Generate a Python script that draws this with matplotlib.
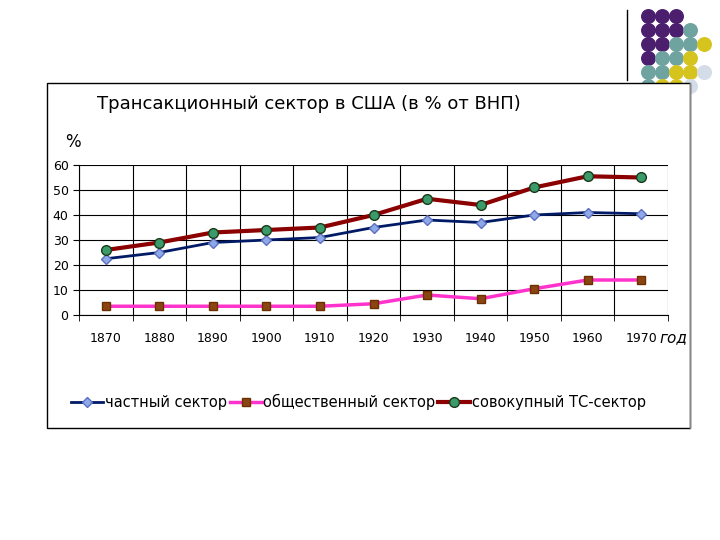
import matplotlib
matplotlib.use("Agg")
import matplotlib.pyplot as plt
from matplotlib.patches import Rectangle
import numpy as np

years = ["1870", "1880", "1890", "1900", "1910", "1920", "1930", "1940", "1950", "1960", "1970"]
private = [22.5, 25, 29, 30, 31, 35, 38, 37, 40, 41, 40.5]
public = [3.5, 3.5, 3.5, 3.5, 3.5, 4.5, 8, 6.5, 10.5, 14, 14]
total = [26, 29, 33, 34, 35, 40, 46.5, 44, 51, 55.5, 55]

W, H = 720, 540
fig = plt.figure(figsize=(7.2, 5.4), dpi=100)

# decorative dots in the top right corner
deco = fig.add_axes([0, 0, 1, 1], facecolor="none")
deco.set_xlim(0, W)
deco.set_ylim(H, 0)
deco.axis("off")
purple, teal, yellow, pale = "#4b1e6e", "#6fa3a0", "#d6c41e", "#d4dce8"
rows = [
    [purple, purple, purple],
    [purple, purple, purple, teal],
    [purple, purple, teal, teal, yellow],
    [purple, teal, teal, yellow],
    [teal, teal, yellow, yellow, pale],
    [teal, yellow, yellow, pale],
]
for r, row in enumerate(rows):
    for c, col in enumerate(row):
        deco.scatter(648 + c * 14, 16 + r * 14, s=95, color=col, zorder=1)
deco.plot([627, 627], [10, 80], color="black", lw=1)
deco.add_patch(Rectangle((47, 83), 643, 345, facecolor="white", edgecolor="black", lw=1, zorder=2))
deco.plot([690, 690], [83, 428], color="#888888", lw=1, zorder=3)

fig.text(97 / W, 1 - 104 / H, "Трансакционный сектор в США (в % от ВНП)", fontsize=13, va="center")
fig.text(65 / W, 1 - 142 / H, "%", fontsize=12, va="center")

ax = fig.add_axes([79 / W, 1 - 315 / H, (668 - 79) / W, 150 / H])
ax.set_zorder(5)
x = np.arange(len(years))
ax.set_xlim(-0.5, len(years) - 0.5)
ax.set_ylim(0, 60)
ax.set_yticks(range(0, 61, 10))
ax.set_xticks(x)
ax.set_xticklabels(years)
ax.set_xticks(np.arange(-0.5, len(years)), minor=True)
ax.grid(True, which="minor", axis="x", color="black", lw=0.8)
ax.grid(True, which="major", axis="y", color="black", lw=0.8)
ax.tick_params(axis="x", which="major", length=0, pad=12, labelsize=9)
ax.tick_params(axis="x", which="minor", length=4)
ax.tick_params(axis="y", labelsize=9, length=4)
for s in ["top", "right"]:
    ax.spines[s].set_visible(False)

ax.plot(x, private, color="#001a66", lw=2, marker="D", ms=5, mfc="#8fa8e8", mec="#5c6fc0",
        label="частный сектор")
ax.plot(x, public, color="#ff33cc", lw=2.5, marker="s", ms=6, mfc="#8b4513", mec="#6b3000",
        label="общественный сектор")
ax.plot(x, total, color="#8b0000", lw=3, marker="o", ms=7, mfc="#3a9a6a", mec="#1a3a1a",
        label="совокупный ТС-сектор")
ax.text(0.985, -0.15, "год", transform=ax.transAxes, fontsize=11, style="italic", va="center")

fig.legend(loc="center left", bbox_to_anchor=(58 / W, 1 - 402 / H), ncol=3, frameon=False,
           fontsize=10.5, handlelength=2.2, handletextpad=0.1, columnspacing=0.2)

fig.savefig("out.png", dpi=100)
